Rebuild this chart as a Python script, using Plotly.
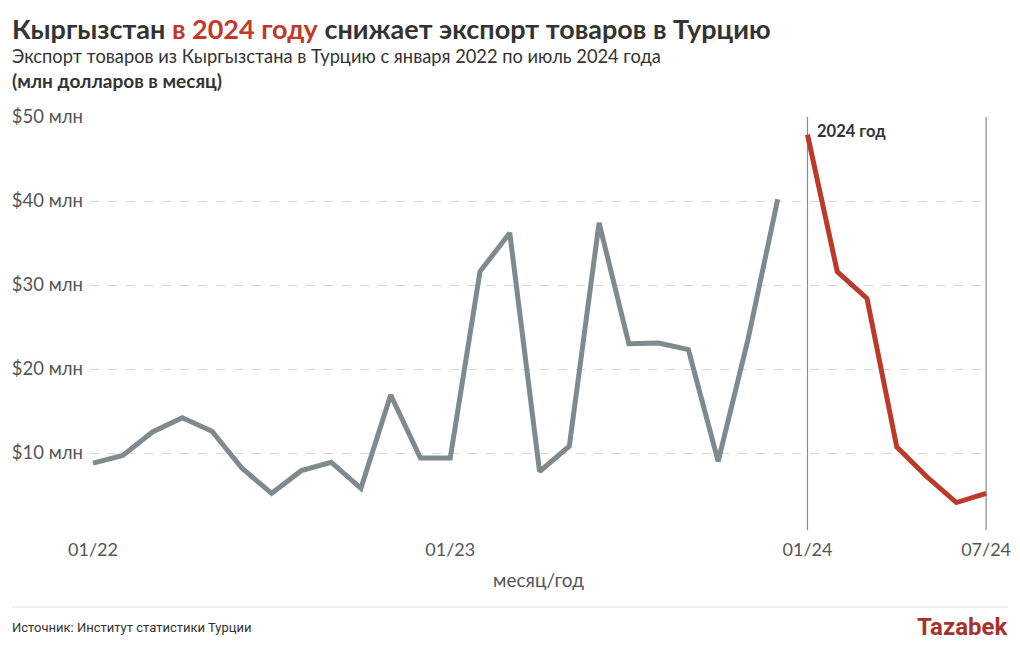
import plotly.graph_objects as go

months = [f"{m:02d}/{y}" for y in (22, 23) for m in range(1, 13)] + [f"{m:02d}/24" for m in range(1, 8)]
values_2022_2023 = [8.8, 9.7, 12.5, 14.2, 12.6, 8.2, 5.2, 7.9, 8.9, 5.8, 16.9, 9.4,
                    9.4, 31.6, 36.2, 7.8, 10.8, 37.4, 23.0, 23.1, 22.3, 9.0, 23.5, 40.2]
values_2024 = [47.9, 31.6, 28.4, 10.7, 7.2, 4.1, 5.2]
x_ticks = ["01/22", "01/23", "01/24", "07/24"]
y_ticks = [10, 20, 30, 40, 50]
y_tick_labels = [f"${v} млн" for v in y_ticks]

GRAY = "#7f8a8e"
RED = "#bb3a2a"
DARK = "#333333"
FONT = "Lato, 'Source Sans Pro', 'Noto Sans', sans-serif"
NARROW = "'Liberation Sans Narrow', 'Roboto', sans-serif"

fig = go.Figure()
fig.add_trace(go.Scatter(x=months[:24], y=values_2022_2023, mode="lines",
                         line=dict(color=GRAY, width=5), hoverinfo="skip", showlegend=False))
fig.add_trace(go.Scatter(x=months[24:], y=values_2024, mode="lines",
                         line=dict(color=RED, width=5), hoverinfo="skip", showlegend=False))

for m in ("01/24", "07/24"):
    fig.add_shape(type="line", xref="x", yref="y", x0=m, x1=m, y0=0.8, y1=50,
                  line=dict(color="#8a8a8a", width=1.2), layer="below")

fig.add_annotation(x="01/24", y=48.3, text="<b>2024 год</b>", showarrow=False,
                   xanchor="left", xshift=8, yanchor="middle",
                   font=dict(family=FONT, size=16.5, color=DARK))

PW, PH = 897, 420

fig.update_layout(
    width=1020, height=650,
    margin=dict(l=90, r=33, t=117, b=113),
    paper_bgcolor="white", plot_bgcolor="white",
    font=dict(family=FONT, color="#555555"),
    xaxis=dict(type="category", categoryorder="array", categoryarray=months,
               range=[-0.1, 30.03], tickvals=x_ticks, ticktext=x_ticks, automargin=False,
               showgrid=False, zeroline=False, showline=False, ticks="",
               tickfont=dict(size=18, color="#555555"),
               title=dict(text="месяц/год", font=dict(size=19, color="#555555"), standoff=14)),
    yaxis=dict(range=[0, 50], tickvals=y_ticks, ticktext=y_tick_labels, automargin=False,
               showgrid=True, gridcolor="#d6d6d6", griddash="dash", gridwidth=1,
               zeroline=False, showline=False, ticks="", ticklabelstandoff=6,
               tickfont=dict(size=18.5, color="#555555")),
)

fig.add_annotation(xref="paper", yref="paper", x=-80/PW, y=1 + (117-28)/PH,
                   xanchor="left", yanchor="middle", showarrow=False,
                   text="<b>Кыргызстан <span style='color:#c0392b'>в 2024 году</span> снижает экспорт товаров в Турцию</b>",
                   font=dict(family=FONT, size=27, color=DARK))
fig.add_annotation(xref="paper", yref="paper", x=-80/PW, y=1 + (117-56)/PH,
                   xanchor="left", yanchor="middle", showarrow=False,
                   text="Экспорт товаров из Кыргызстана в Турцию с января 2022 по июль 2024 года",
                   font=dict(family=FONT, size=18.3, color=DARK))
fig.add_annotation(xref="paper", yref="paper", x=-80/PW, y=1 + (117-80)/PH,
                   xanchor="left", yanchor="middle", showarrow=False,
                   text="<b>(млн долларов в месяц)</b>",
                   font=dict(family=FONT, size=19, color=DARK))

fig.add_shape(type="line", xref="paper", yref="paper", x0=-78/PW, x1=(1008-90)/PW,
              y0=-(607-537)/PH, y1=-(607-537)/PH, line=dict(color="#dddddd", width=1))
fig.add_annotation(xref="paper", yref="paper", x=-80/PW, y=-(627-537)/PH,
                   xanchor="left", yanchor="middle", showarrow=False,
                   text="Источник: Институт статистики Турции",
                   font=dict(family=NARROW, size=13, color=DARK))
fig.add_annotation(xref="paper", yref="paper", x=(1010-90)/PW, y=-(627-537)/PH,
                   xanchor="right", yanchor="middle", showarrow=False,
                   text="<b>Tazabek</b>",
                   font=dict(family=NARROW, size=24, color="#a8322a"))

fig.write_html("out.html", config={"displayModeBar": False},
               post_script="document.body.style.margin='0';")
